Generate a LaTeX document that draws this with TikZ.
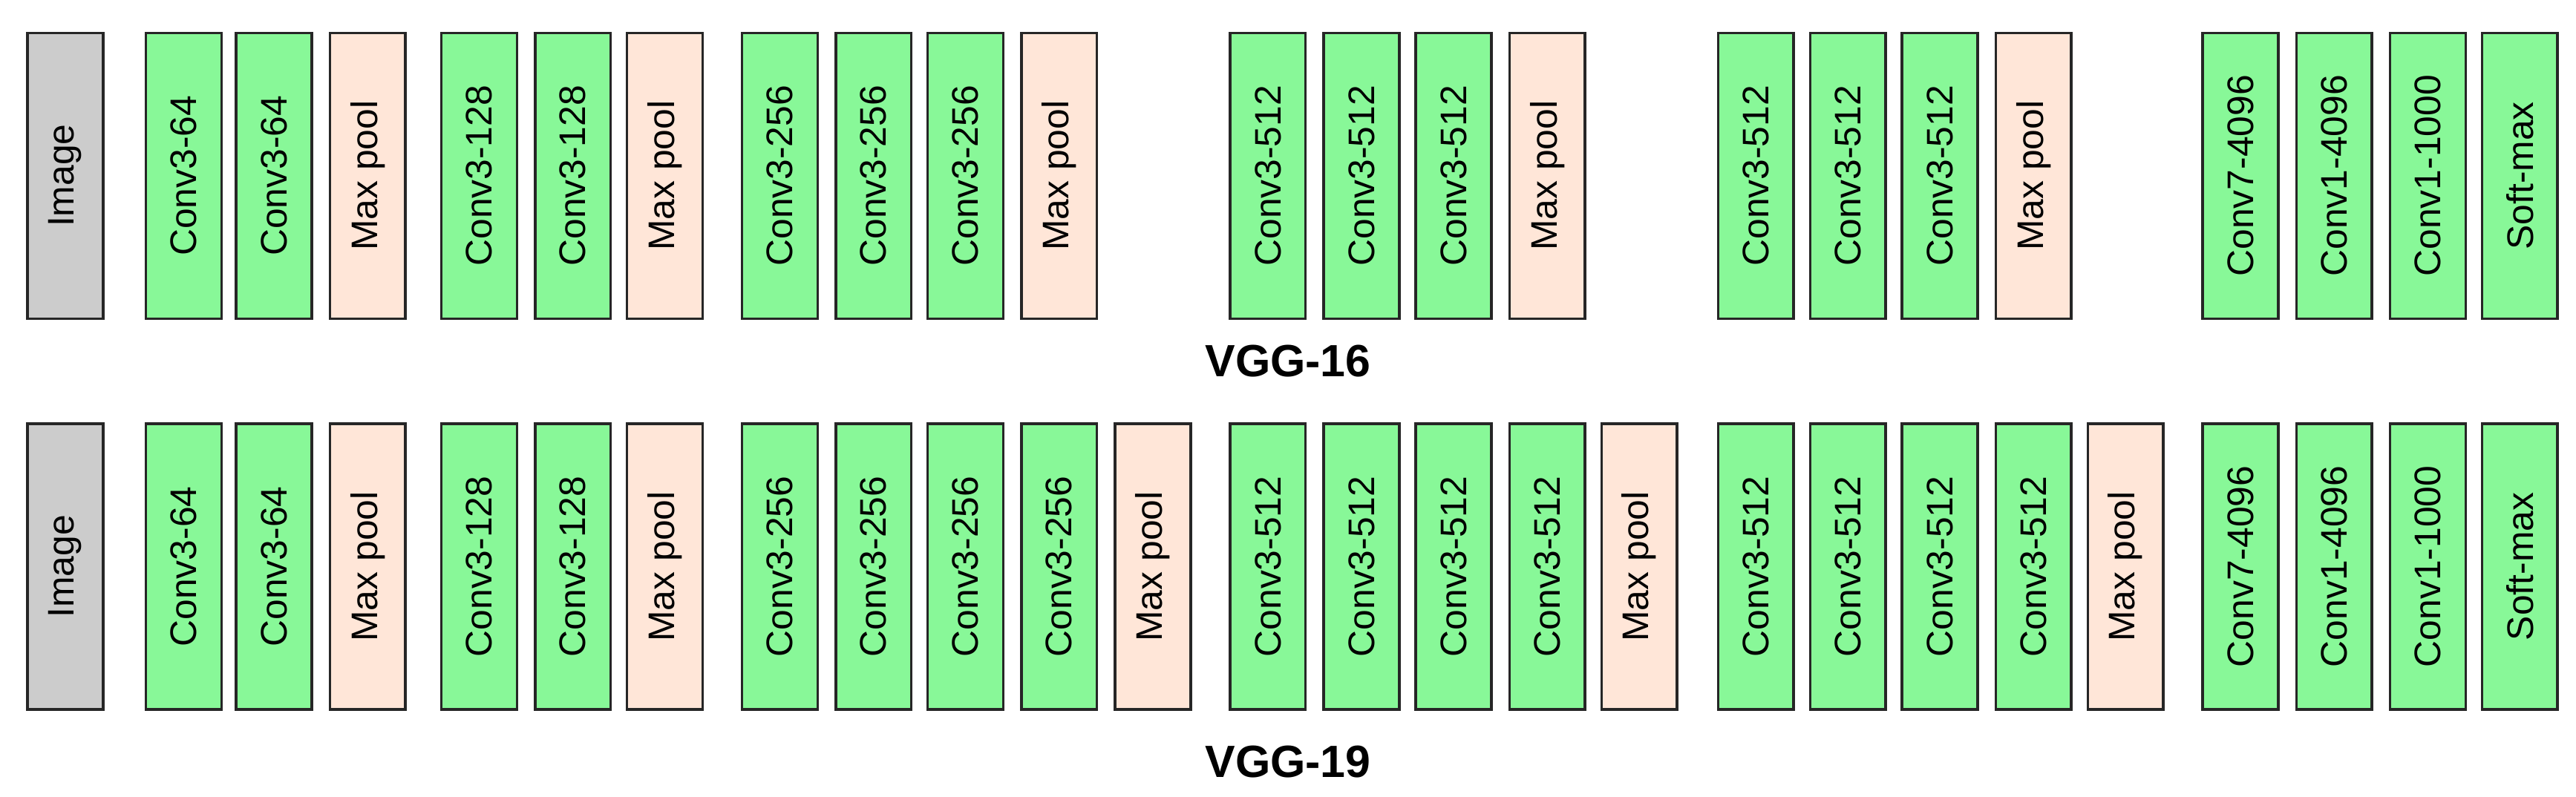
\documentclass[tikz,border=0pt]{standalone}
\usepackage{fontspec}
\setmainfont{Liberation Sans}
\begin{document}
\begin{tikzpicture}[x=1pt,y=1pt,
  blk/.style={draw=black!85,line width=1.5pt,minimum width=46pt,minimum height=174pt,inner sep=0pt,font=\fontsize{22.5}{26}\selectfont},
  img/.style={blk,fill=black!20},
  cv/.style={blk,fill={rgb,255:red,136;green,248;blue,152}},
  mp/.style={blk,fill={rgb,255:red,255;green,230;blue,216}},
  ttl/.style={font=\bfseries\fontsize{27.5}{32}\selectfont}]
\useasboundingbox (0,0) rectangle (1568,485);
% VGG-16
\foreach \x/\s/\t [count=\i] in {16/img/Image,88/cv/Conv3-64,143/cv/Conv3-64,200/mp/Max pool,
  268/cv/Conv3-128,325/cv/Conv3-128,381/mp/Max pool,
  451/cv/Conv3-256,508/cv/Conv3-256,564/cv/Conv3-256,621/mp/Max pool,
  748/cv/Conv3-512,805/cv/Conv3-512,861/cv/Conv3-512,918/mp/Max pool,
  1045/cv/Conv3-512,1101/cv/Conv3-512,1157/cv/Conv3-512,1214/mp/Max pool,
  1340/cv/Conv7-4096,1397/cv/Conv1-4096,1454/cv/Conv1-1000,1510/cv/Soft-max}
  \node[\s,anchor=west] (a\i) at (\x,378) {\rotatebox{90}{\t}};
\node[ttl] (t16) at (784,265) {VGG-16};
% VGG-19
\foreach \x/\s/\t [count=\i] in {16/img/Image,88/cv/Conv3-64,143/cv/Conv3-64,200/mp/Max pool,
  268/cv/Conv3-128,325/cv/Conv3-128,381/mp/Max pool,
  451/cv/Conv3-256,508/cv/Conv3-256,564/cv/Conv3-256,621/cv/Conv3-256,678/mp/Max pool,
  748/cv/Conv3-512,805/cv/Conv3-512,861/cv/Conv3-512,918/cv/Conv3-512,974/mp/Max pool,
  1045/cv/Conv3-512,1101/cv/Conv3-512,1157/cv/Conv3-512,1214/cv/Conv3-512,1270/mp/Max pool,
  1340/cv/Conv7-4096,1397/cv/Conv1-4096,1454/cv/Conv1-1000,1510/cv/Soft-max}
  \node[\s,anchor=west] (b\i) at (\x,140) {\rotatebox{90}{\t}};
\node[ttl] (t19) at (784,21) {VGG-19};
\end{tikzpicture}
\end{document}
